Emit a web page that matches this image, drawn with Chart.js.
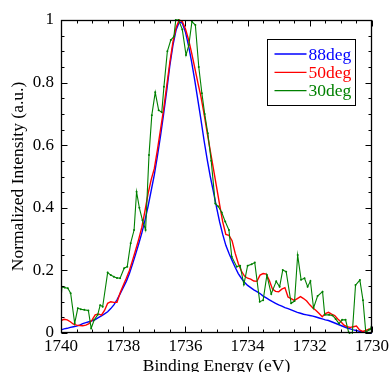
<!DOCTYPE html>
<html>
<head>
<meta charset="utf-8">
<script src="https://cdn.jsdelivr.net/npm/chart.js@4/dist/chart.umd.min.js"></script>
<style>
html,body{margin:0;padding:0;overflow:hidden;background:#fff;}
canvas{display:block;}
</style>
</head>
<body>
<canvas id="c" width="392" height="380"></canvas>
<script>
// ---- data ----
const energies = [
1740.0,1739.9,1739.8,1739.7,1739.6,1739.5,1739.4,1739.3,1739.2,1739.1,
1739.0,1738.9,1738.8,1738.7,1738.6,1738.5,1738.4,1738.3,1738.2,1738.1,
1738.0,1737.9,1737.8,1737.7,1737.6,1737.5,1737.4,1737.3,1737.2,1737.1,
1737.0,1736.9,1736.8,1736.7,1736.6,1736.5,1736.4,1736.3,1736.2,1736.1,
1736.0,1735.9,1735.8,1735.7,1735.6,1735.5,1735.4,1735.3,1735.2,1735.1,
1735.0,1734.9,1734.8,1734.7,1734.6,1734.5,1734.4,1734.3,1734.2,1734.1,
1734.0,1733.9,1733.8,1733.7,1733.6,1733.5,1733.4,1733.3,1733.2,1733.1,
1733.0,1732.9,1732.8,1732.7,1732.6,1732.5,1732.4,1732.3,1732.2,1732.1,
1732.0,1731.9,1731.8,1731.7,1731.6,1731.5,1731.4,1731.3,1731.2,1731.1,
1731.0,1730.9,1730.8,1730.7,1730.6,1730.5,1730.4,1730.3,1730.2,1730.1,
1730.0];

const deg88 = [
0.010,0.013,0.015,0.018,0.020,0.022,0.025,0.030,0.033,0.036,
0.039,0.043,0.049,0.055,0.061,0.068,0.078,0.090,0.106,0.125,
0.145,0.165,0.190,0.220,0.252,0.285,0.320,0.360,0.405,0.455,
0.505,0.565,0.630,0.700,0.775,0.855,0.920,0.968,0.993,0.990,
0.962,0.918,0.866,0.808,0.745,0.682,0.615,0.555,0.500,0.452,
0.402,0.355,0.315,0.280,0.255,0.232,0.210,0.190,0.175,0.162,
0.152,0.145,0.138,0.132,0.126,0.118,0.112,0.106,0.100,0.095,
0.090,0.086,0.081,0.078,0.074,0.070,0.066,0.063,0.060,0.058,
0.056,0.054,0.051,0.048,0.045,0.042,0.040,0.036,0.032,0.028,
0.024,0.020,0.016,0.013,0.010,0.008,0.005,0.003,0.002,0.001,
0.000];

const deg50 = [
0.040,0.044,0.042,0.036,0.028,0.025,0.024,0.023,0.025,0.030,
0.042,0.058,0.061,0.057,0.072,0.095,0.100,0.098,0.098,0.128,
0.152,0.175,0.200,0.232,0.265,0.300,0.338,0.390,0.445,0.490,
0.525,0.585,0.650,0.715,0.790,0.865,0.930,0.975,1.000,0.995,
0.972,0.938,0.895,0.848,0.800,0.755,0.700,0.640,0.582,0.525,
0.468,0.410,0.355,0.315,0.312,0.295,0.255,0.222,0.198,0.182,
0.175,0.172,0.166,0.165,0.185,0.190,0.188,0.168,0.140,0.133,
0.132,0.140,0.145,0.115,0.110,0.104,0.110,0.116,0.110,0.102,
0.090,0.080,0.072,0.062,0.052,0.062,0.066,0.060,0.056,0.045,
0.036,0.025,0.020,0.018,0.020,0.022,0.010,0.005,0.008,0.012,
0.015];

const energies30 = [
1740.03,1739.97,1739.88,1739.78,1739.69,1739.56,1739.46,1739.36,1739.25,1739.12,
1739.03,1738.93,1738.82,1738.74,1738.66,1738.50,1738.40,1738.30,1738.20,1738.10,
1737.97,1737.87,1737.76,1737.65,1737.57,1737.48,1737.38,1737.28,1737.17,1737.08,
1736.97,1736.86,1736.76,1736.69,1736.58,1736.47,1736.37,1736.31,1736.22,1736.10,
1735.98,1735.89,1735.79,1735.68,1735.57,1735.47,1735.38,1735.28,1735.17,1735.04,
1734.94,1734.83,1734.72,1734.60,1734.51,1734.35,1734.24,1734.12,1734.00,1733.87,
1733.77,1733.61,1733.50,1733.38,1733.24,1733.08,1732.97,1732.87,1732.76,1732.60,
1732.49,1732.39,1732.28,1732.17,1732.07,1731.98,1731.88,1731.75,1731.59,1731.52,
1731.38,1731.27,1731.17,1731.06,1730.96,1730.85,1730.75,1730.64,1730.53,1730.39,
1730.29,1730.20,1730.10,1730.05,1729.98];

const deg30 = [
0.060,0.148,0.145,0.143,0.127,0.031,0.079,0.076,0.074,0.072,
0.015,0.042,0.058,0.089,0.084,0.193,0.185,0.180,0.176,0.175,
0.207,0.212,0.287,0.329,0.451,0.400,0.360,0.329,0.569,0.696,
0.769,0.712,0.705,0.787,0.900,0.936,0.947,1.000,1.000,0.970,
0.888,0.920,0.995,0.984,0.850,0.766,0.700,0.638,0.550,0.414,
0.404,0.385,0.356,0.329,0.244,0.212,0.215,0.155,0.215,0.220,
0.225,0.100,0.105,0.185,0.125,0.165,0.148,0.201,0.196,0.095,
0.102,0.249,0.170,0.175,0.148,0.166,0.080,0.118,0.132,0.058,
0.058,0.056,0.045,0.030,0.042,0.042,0.002,-0.010,0.153,0.169,
0.105,0.002,0.010,0.012,0.036];

const seriesLabels = ['88deg','50deg','30deg'];
const seriesColors = ['#0000ff','#ff0000','#008000'];
const xTickValues = [1740,1738,1736,1734,1732,1730];
const yTickValues = [0,0.2,0.4,0.6,0.8,1];

const pts = (xs, ys) => xs.map((x, i) => ({x: x, y: ys[i]}));

// ---- inward ticks + frame ----
const frameTicks = {
  id: 'frameTicks',
  afterDatasetsDraw(chart) {
    const {ctx, chartArea: a, scales: {x, y}} = chart;
    ctx.save();
    ctx.strokeStyle = '#000';
    ctx.lineWidth = 1;
    const L = Math.round(a.left) + 0.5, R = Math.round(a.right) - 0.5;
    const T = Math.round(a.top) + 0.5, B = Math.round(a.bottom) - 0.5;
    ctx.beginPath();
    for (let i = 0; i <= 20; i++) {
      const v = 1730 + i * 0.5;
      const px = Math.round(x.getPixelForValue(v)) + 0.5;
      const len = (i % 4 === 0) ? 6 : 3;
      ctx.moveTo(px, B); ctx.lineTo(px, B - len);
      ctx.moveTo(px, T); ctx.lineTo(px, T + len);
    }
    for (let i = 0; i <= 20; i++) {
      const v = i * 0.05;
      const py = Math.round(y.getPixelForValue(v)) + 0.5;
      const len = (i % 4 === 0) ? 6 : 3;
      ctx.moveTo(L, py); ctx.lineTo(L + len, py);
      ctx.moveTo(R, py); ctx.lineTo(R - len, py);
    }
    ctx.stroke();
    ctx.lineWidth = 1.3;
    ctx.strokeRect(L, T, R - L, B - T);
    ctx.restore();
  }
};

// ---- legend inside the plot ----
const legendBox = {
  id: 'legendBox',
  afterDraw(chart) {
    const {ctx, chartArea: a} = chart;
    const bx = Math.round(a.right - 105) + 0.5, by = Math.round(a.top + 19) + 0.5;
    const bw = 88, bh = 66;
    ctx.save();
    ctx.fillStyle = '#fff';
    ctx.fillRect(bx, by, bw, bh);
    ctx.strokeStyle = '#000';
    ctx.lineWidth = 1;
    ctx.strokeRect(bx, by, bw, bh);
    ctx.font = '17.5px "Liberation Serif"';
    ctx.textBaseline = 'middle';
    ctx.textAlign = 'left';
    chart.data.datasets.forEach((ds, i) => {
      const ry = by + 14.5 + i * 18.3;
      ctx.strokeStyle = ds.borderColor;
      ctx.lineWidth = 1.3;
      ctx.beginPath();
      ctx.moveTo(bx + 7, ry); ctx.lineTo(bx + 39, ry);
      ctx.stroke();
      ctx.fillStyle = ds.borderColor;
      ctx.fillText(ds.label, bx + 41, ry + 1);
    });
    ctx.restore();
  }
};

new Chart(document.getElementById('c'), {
  type: 'line',
  data: {
    datasets: [
      {label: seriesLabels[0], data: pts(energies, deg88), borderColor: seriesColors[0], borderWidth: 1.4, pointRadius: 0, order: 2},
      {label: seriesLabels[1], data: pts(energies, deg50), borderColor: seriesColors[1], borderWidth: 1.4, pointRadius: 0, order: 1},
      {label: seriesLabels[2], data: pts(energies30, deg30), borderColor: seriesColors[2], borderWidth: 1.1, pointRadius: 1, pointBorderWidth: 0, pointBackgroundColor: seriesColors[2], order: 0}
    ]
  },
  options: {
    responsive: false,
    animation: false,
    devicePixelRatio: 1,
    events: [],
    layout: {padding: {top: 20, right: 17, left: 0, bottom: 0}},
    elements: {line: {tension: 0, fill: false}},
    datasets: {line: {clip: {left: 0, right: 0, top: 2, bottom: 1}}},
    plugins: {legend: {display: false}, tooltip: {enabled: false}},
    scales: {
      x: {
        type: 'linear', reverse: true, min: 1730, max: 1740,
        afterFit(s) { s.height = 47; },
        afterBuildTicks(s) { s.ticks = xTickValues.map(v => ({value: v})); },
        grid: {display: false, drawTicks: false},
        border: {display: false},
        ticks: {color: '#000', padding: 3, maxRotation: 0, autoSkip: false,
          font: {family: '"Liberation Serif"', size: 17},
          callback: v => String(v)},
        title: {display: true, text: 'Binding Energy (eV)', color: '#000',
          font: {family: '"Liberation Serif"', size: 17.5}, padding: {top: 0, bottom: 3.5}}
      },
      y: {
        type: 'linear', min: 0, max: 1,
        afterFit(s) { s.width = 61; },
        afterBuildTicks(s) { s.ticks = yTickValues.map(v => ({value: v})); },
        grid: {display: false, drawTicks: false},
        border: {display: false},
        ticks: {color: '#000', padding: 7, autoSkip: false,
          font: {family: '"Liberation Serif"', size: 17},
          callback: v => String(Math.round(v * 10) / 10)},
        title: {display: true, text: 'Normalized Intensity (a.u.)', color: '#000',
          font: {family: '"Liberation Serif"', size: 17.5}, padding: {top: 8, bottom: 0}}
      }
    }
  },
  plugins: [frameTicks, legendBox]
});
</script>
</body>
</html>
